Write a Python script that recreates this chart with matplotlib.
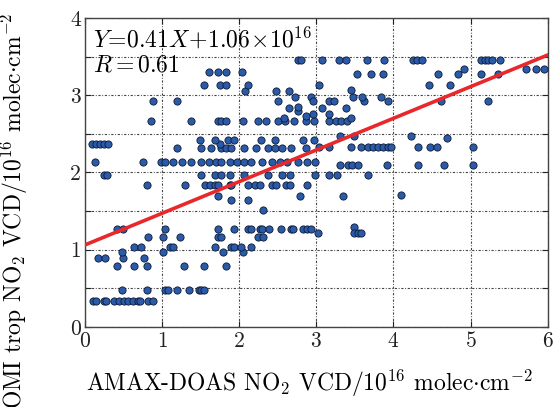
import numpy as np
import matplotlib
matplotlib.use("Agg")
import matplotlib.pyplot as plt

# Computer Modern look for all text
plt.rcParams["font.family"] = "serif"
plt.rcParams["font.serif"] = ["cmr10", "DejaVu Serif"]
plt.rcParams["mathtext.fontset"] = "cm"
plt.rcParams["axes.unicode_minus"] = False
plt.rcParams["axes.formatter.use_mathtext"] = True

# -------------------------------------------------
# data (units of 1e16 molec/cm^2)
# -------------------------------------------------
amax_x = [
    # y ~ 0.34
    0.10, 0.14, 0.25, 0.27, 0.38, 0.44, 0.51, 0.56, 0.62, 0.69, 0.71, 0.82, 0.88,
    # y ~ 0.48
    0.475, 0.80, 1.04, 1.08, 1.19, 1.35, 1.48, 1.51, 1.55,
    # y ~ 0.79
    0.42, 0.64, 0.81, 1.29, 1.55, 1.83,
    # y ~ 0.885
    0.17, 0.26, 0.50, 0.76,
    # y ~ 0.97
    0.48, 1.01, 1.79, 2.05,
    # y ~ 1.03
    0.64, 0.725, 1.10, 1.14, 1.68, 1.90, 1.93, 2.02, 2.15,
    # y ~ 1.16
    0.82, 1.01, 1.23, 1.73, 1.76, 2.245, 2.31,
    # y ~ 1.27
    0.41, 0.50, 1.04, 1.72, 1.93, 2.12, 2.15, 2.27, 2.29, 2.39, 2.54, 2.67,
    2.70, 2.83, 2.88, 2.93, 3.49,
    # y ~ 1.22
    3.02, 3.49, 3.54, 3.58,
    # y ~ 1.5 - 1.7
    2.31, 1.90, 2.12, 1.72, 2.785, 3.35, 4.10,
    # y ~ 1.835
    0.80, 1.295, 1.554, 1.62, 1.68, 1.73, 1.88, 1.90, 2.11, 2.20, 2.27, 2.42,
    2.48, 2.61, 2.655, 2.88,
    # y ~ 1.97
    0.25, 0.28, 1.51, 1.68, 1.76, 1.88, 2.06, 2.37, 2.55, 2.655, 2.98, 3.17,
    3.27, 3.67,
    # y ~ 2.12
    0.13, 0.755, 0.985, 1.036, 1.144, 1.26, 1.38, 1.51, 1.61, 1.705, 1.77,
    1.88, 1.965, 2.06, 2.15, 2.29, 2.42, 2.53, 2.625, 2.76, 2.88, 2.98,
    3.31, 3.41, 3.46, 3.54, 3.91, 4.32, 4.66, 5.03,
    # y ~ 2.32
    1.19, 1.51, 1.64, 1.77, 1.835, 1.90, 2.06, 2.22, 2.37, 2.47, 2.55, 2.67,
    2.87, 3.04, 3.16, 3.45, 3.58, 3.67, 3.73, 3.80, 3.87, 3.93, 3.97, 4.32,
    4.47, 4.56, 5.03,
    # y ~ 2.37
    0.086, 0.138, 0.194, 0.25, 0.30, 1.75,
    # y ~ 2.42
    1.49, 1.68, 1.86, 1.93, 2.28, 2.47, 2.83, 2.97, 4.23, 4.69, 3.31, 3.49,
    # y ~ 2.66
    0.86, 1.37, 1.72, 1.77, 1.835, 2.05, 2.245, 2.35, 2.50, 2.59, 2.71, 2.87,
    2.97, 3.17, 3.26, 3.32, 3.40, 3.45,
    2.58, 2.76, 2.64, 2.87, 2.96, 3.17, 3.07, 3.38,
    # y ~ 2.92
    0.885, 1.19, 2.50, 3.17, 3.23, 3.62, 3.93, 4.61, 5.23, 2.76,
    3.48, 3.59, 3.84,
    # y ~ 3.05
    2.07, 2.48, 2.64, 2.72, 2.93, 2.96, 3.45,
    # y ~ 3.13
    1.545, 1.75, 1.835, 2.11, 3.04, 4.46, 4.73,
    # y ~ 3.27 - 3.34
    3.53, 3.71, 3.87, 4.58, 4.84, 5.13, 5.35,
    1.61, 1.73, 1.835, 2.03,
    4.92, 5.72, 5.85, 5.95,
    # y ~ 3.46
    2.76, 2.80, 3.07, 3.29, 3.39, 3.66, 3.88, 4.25, 4.31, 4.37, 5.14, 5.18,
    5.22, 5.28, 5.38,
]

omi_y = (
    [0.34] * 13
    + [0.48] * 9
    + [0.79] * 6
    + [0.885] * 4
    + [0.97] * 4
    + [1.03] * 9
    + [1.16] * 7
    + [1.27] * 16 + [1.29]
    + [1.22] * 4
    + [1.51, 1.64, 1.64, 1.70, 1.70, 1.70, 1.71]
    + [1.835] * 16
    + [1.97] * 14
    + [2.13] * 22 + [2.09] * 8
    + [2.32] * 13 + [2.33] * 14
    + [2.37] * 6
    + [2.42] * 8 + [2.47, 2.44, 2.47, 2.47]
    + [2.66] * 17 + [2.70]
    + [2.71, 2.79, 2.83, 2.73, 2.76, 2.75, 2.83, 2.83]
    + [2.92] * 9 + [2.85]
    + [2.98] * 3
    + [3.05, 3.05, 3.05, 2.98, 2.98, 2.92, 3.07]
    + [3.13] * 7
    + [3.27] * 7
    + [3.30] * 4
    + [3.34] * 4
    + [3.46] * 15
)

# linear fit shown in the reference: Y = 0.41 X + 1.06
fit_slope = 0.41
fit_intercept = 1.06

x_ticks = [0, 1, 2, 3, 4, 5, 6]
y_ticks = [0, 0.5, 1, 1.5, 2, 2.5, 3, 3.5, 4]
y_tick_labels = ["0", "", "1", "", "2", "", "3", "", "4"]

# -------------------------------------------------
# figure
# -------------------------------------------------
fig = plt.figure(figsize=(5.55, 4.07), dpi=100)
ax = fig.add_axes([0.153, 0.197, 0.834, 0.759])

ax.scatter(amax_x, omi_y, s=27, facecolor="#2b5aa8", edgecolor="#0d1a33",
           linewidths=0.6, zorder=3)

fit_x = np.array([0, 6])
ax.plot(fit_x, fit_slope * fit_x + fit_intercept, color="#e8282a",
        linewidth=2.6, zorder=4)

ax.set_xlim(0, 6)
ax.set_ylim(0, 4)
ax.set_xticks(x_ticks)
ax.set_yticks(y_ticks)
ax.set_yticklabels(y_tick_labels)
ax.tick_params(direction="in", top=True, right=True, length=4,
               labelsize=15.5, colors="#222222", pad=3)

# dotted grid
ax.grid(True, linestyle=(0, (2, 1.5, 0.8, 1.5)), color="#444444", linewidth=0.8)
ax.set_axisbelow(True)
for sp in ax.spines.values():
    sp.set_color("#444444")
    sp.set_linewidth(1.0)

ax.text(0.017, 0.906, r"$Y\!=\!0.41X\!+\!1.06\!\times\!10^{16}$",
        transform=ax.transAxes, fontsize=17, va="baseline", ha="left")
ax.text(0.017, 0.825, r"$R = 0.61$",
        transform=ax.transAxes, fontsize=17, va="baseline", ha="left")

fig.text(0.557, 0.058,
         r"AMAX-DOAS NO$_2$ VCD/10$^{16}$ molec$\cdot$cm$^{-2}$",
         fontsize=17, ha="center", va="center")
fig.text(0.026, 0.968,
         r"OMI trop NO$_2$ VCD/10$^{16}$ molec$\cdot$cm$^{-2}$",
         fontsize=17, ha="center", va="top", rotation=90)

fig.savefig("out.png", dpi=100)
